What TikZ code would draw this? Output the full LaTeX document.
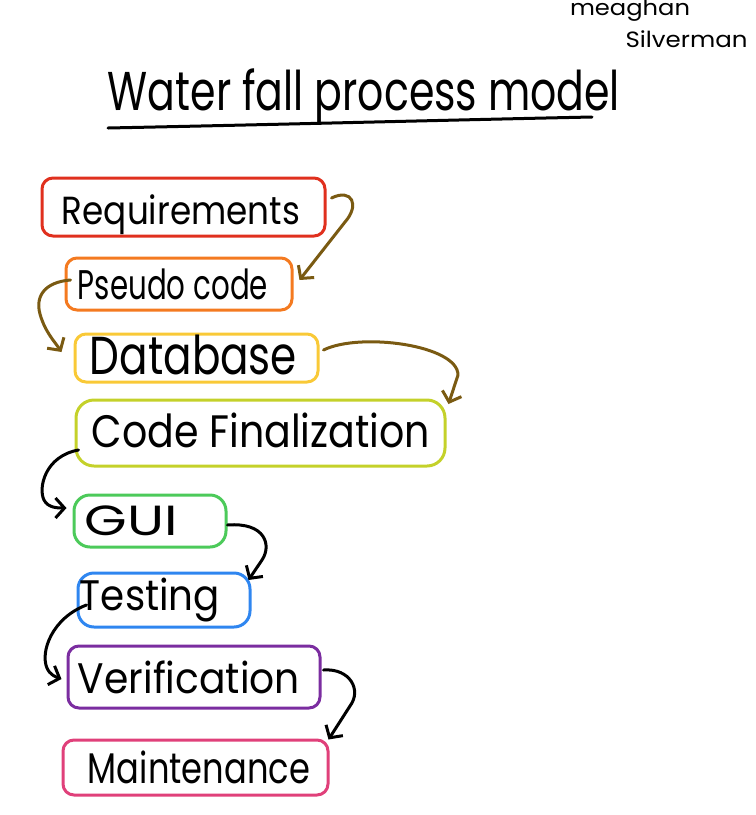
\documentclass[tikz,border=0pt]{standalone}
\usepackage{fontspec}
\setmainfont{Poppins}
\usetikzlibrary{arrows.meta}
\definecolor{cred}{HTML}{E0301E}
\definecolor{corange}{HTML}{F47A20}
\definecolor{cyellow}{HTML}{F9C937}
\definecolor{clime}{HTML}{C4D12A}
\definecolor{cgreen}{HTML}{4CCA5A}
\definecolor{cblue}{HTML}{2F86F0}
\definecolor{cpurple}{HTML}{7B2DA0}
\definecolor{cpink}{HTML}{E0407A}
\definecolor{cbrown}{HTML}{7A5A12}
\newcommand{\fitwh}[3]{\resizebox*{#1pt}{#2pt}{#3}}
\tikzset{
  stage/.style={draw, line width=3pt, rounded corners=11pt, inner sep=0pt},
  flow/.style={line width=3pt, line cap=round, line join=round, -{Straight Barb[length=9pt,width=20pt,line width=3pt]}},
  hand/.style={inner sep=0pt, text=black}
}
\begin{document}
\begin{tikzpicture}[x=1pt,y=-1pt]
\useasboundingbox (0,0) rectangle (756,815);
% author
\node[hand] (au1) at (630,10) {\fitwh{120}{22}{meaghan}};
\node[hand] (au2) at (686.5,39) {\fitwh{122}{17}{Silverman}};
% title
\node[hand] (title) at (364,97) {\fitwh{512}{56}{Water fall process model}};
\coordinate (ul1) at (108,128);
\coordinate (ul2) at (592,117);
\draw[line width=3pt, line cap=round] (ul1) .. controls (300,124) and (450,120) .. (ul2);
% stages
\node[stage, draw=cred, minimum width=283pt, minimum height=58pt] (req) at (183.5,207) {};
\node[stage, draw=corange, minimum width=226pt, minimum height=52pt] (pse) at (179,284) {};
\node[stage, draw=cyellow, minimum width=243pt, minimum height=48pt] (dat) at (196.5,358) {};
\node[stage, draw=clime, minimum width=369pt, minimum height=66pt, rounded corners=18pt] (cod) at (260.5,433) {};
\node[stage, draw=cgreen, minimum width=152pt, minimum height=52pt, rounded corners=16pt] (gui) at (150,521) {};
\node[stage, draw=cblue, minimum width=172pt, minimum height=54pt, rounded corners=16pt] (tes) at (164,600) {};
\node[stage, draw=cpurple, minimum width=252pt, minimum height=62pt] (ver) at (194,677) {};
\node[stage, draw=cpink, minimum width=265pt, minimum height=55pt] (mai) at (195.5,767.5) {};
% labels
\node[hand] (reqt) at (181,215) {\fitwh{238}{40}{Requirements}};
\node[hand] (pset) at (173,284) {\fitwh{190}{31}{Pseudo code}};
\node[hand] (datt) at (193.5,355) {\fitwh{207}{40}{Database}};
\node[hand] (codt) at (261,430) {\fitwh{338}{35}{Code Finalization}};
\node[hand] (guit) at (131.5,521) {\fitwh{93}{30}{GUI}};
\node[hand] (test) at (150,600) {\fitwh{140}{44}{Testing}};
\node[hand] (vert) at (189,677) {\fitwh{222}{33}{Verification}};
\node[hand] (mait) at (199,767) {\fitwh{222}{33}{Maintenance}};
% connectors
\draw[flow, draw=cbrown] ([shift={(5,-9)}]req.east) .. controls (352,188) and (360,205) .. (345,222) -- ([shift={(6,-4)}]pse.east);
\draw[flow, draw=cbrown] ([shift={(6,-4)}]pse.west) .. controls (45,282) and (35,296) .. (40,314) .. controls (45,332) and (55,342) .. ([shift={(-12,-6)}]dat.west);
\draw[flow, draw=cbrown] ([shift={(4,-8)}]dat.east) .. controls (360,332) and (458,345) .. (458,375) -- ([shift={(2,-29)}]cod.east);
\draw[flow, draw=black] ([shift={(4,17)}]cod.west) .. controls (45,456) and (38,488) .. (44,500) .. controls (48,508) and (58,508) .. ([shift={(-6,-13)}]gui.west);
\draw[flow, draw=black] ([shift={(0,4)}]gui.east) .. controls (265,522) and (272,545) .. (262,560) -- ([shift={(-3,-20)}]tes.east);
\draw[flow, draw=black] ([shift={(10,5)}]tes.west) .. controls (52,618) and (40,652) .. (47,668) .. controls (50,675) and (56,677) .. ([shift={(-5,2)}]ver.west);
\draw[flow, draw=black] ([shift={(2,-7)}]ver.east) .. controls (350,668) and (362,690) .. (350,706) -- ([shift={(-1,-28)}]mai.east);
\end{tikzpicture}
\end{document}
